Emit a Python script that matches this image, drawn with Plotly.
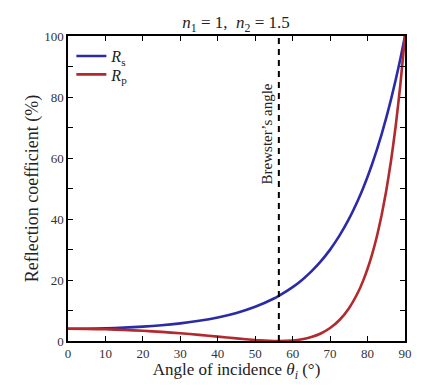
import plotly.graph_objects as go

# Values (percent)
angle = [0, 5, 10, 15, 20, 25, 30, 35, 40, 45, 50, 55, 56.3, 60, 62.5, 65, 67.5, 70, 72.5, 75,
         77.5, 78.75, 80, 81.25, 82.5, 83.75, 85, 86.25, 87.5, 88.75, 90]
rs = [4.0, 4.04, 4.17, 4.38, 4.71, 5.16, 5.78, 6.61, 7.72, 9.20, 11.21, 13.93, 14.79, 17.66, 20.02,
      22.81, 26.09, 29.96, 34.53, 39.94, 46.32, 49.93, 53.86, 58.13, 62.75, 67.78, 73.23, 79.15,
      85.55, 92.49, 100.0]
rp = [4.0, 3.96, 3.84, 3.63, 3.35, 2.98, 2.53, 2.00, 1.43, 0.85, 0.33, 0.02, 0.0, 0.18, 0.58,
      1.30, 2.47, 4.25, 6.88, 10.68, 16.07, 19.55, 23.68, 28.57, 34.36, 41.21, 49.32, 58.94,
      70.34, 83.89, 100.0]
brewster = 56.31
x_ticks = [0, 10, 20, 30, 40, 50, 60, 70, 80, 90]
y_ticks = [0, 10, 20, 30, 40, 50, 60, 70, 80, 90, 100]
y_labels = ["0", "", "20", "", "40", "", "60", "", "80", "", "100"]

serif = "Liberation Serif"
blue = "#2b2ba8"
red = "#b2292e"

fig = go.Figure()
fig.add_trace(go.Scatter(x=angle, y=rs, mode="lines", name="<i>R</i><sub>s</sub>", legend="legend",
                         line=dict(color=blue, width=2.6, shape="spline", smoothing=0.5)))
fig.add_trace(go.Scatter(x=angle, y=rp, mode="lines", name="<i>R</i><sub>p</sub>", legend="legend2",
                         line=dict(color=red, width=2.6, shape="spline", smoothing=0.5)))

fig.add_shape(type="line", x0=brewster, x1=brewster, y0=0, y1=100, xref="x", yref="y",
              line=dict(color="black", width=2, dash="6px,5px"))
fig.add_annotation(x=brewster, y=68, xref="x", yref="y", text="Brewster\u2019s angle",
                   textangle=-90, showarrow=False, xanchor="right", yanchor="middle", xshift=-2,
                   font=dict(family=serif, size=15, color="#222"))

axis_common = dict(showline=True, linecolor="black", linewidth=1.5, mirror="ticks",
                   ticks="inside", ticklen=5, tickcolor="black", tickwidth=1,
                   showgrid=False, zeroline=False, automargin=False,
                   tickfont=dict(family=serif, size=13, color="#333"))

leg_common = dict(x=0.01, xanchor="left", yanchor="middle", bgcolor="rgba(0,0,0,0)",
                  font=dict(family=serif, size=16, color="#222"), itemwidth=30)

fig.update_layout(
    width=413, height=374,
    margin=dict(l=60, r=16, t=28, b=41),
    plot_bgcolor="white", paper_bgcolor="white",
    title=dict(text="<i>n</i><sub>1</sub> = 1,&nbsp;&nbsp;<i>n</i><sub>2</sub> = 1.5",
               x=0.552, xanchor="center", y=0.962, yanchor="middle",
               font=dict(family=serif, size=17, color="#222")),
    xaxis=dict(range=[0, 90], tickvals=x_ticks,
               title=dict(text="Angle of incidence <i>\u03b8<sub>i</sub></i> (\u00b0)", standoff=12,
                          font=dict(family=serif, size=17, color="#222")),
               **axis_common),
    yaxis=dict(range=[0, 100], tickvals=y_ticks, ticktext=y_labels,
               title=dict(text="Reflection coefficient (%)", standoff=1,
                          font=dict(family=serif, size=18, color="#222")),
               **axis_common),
    legend=dict(y=0.934, **leg_common),
    legend2=dict(y=0.874, **leg_common),
    showlegend=True,
)

fig.write_html("out.html")
